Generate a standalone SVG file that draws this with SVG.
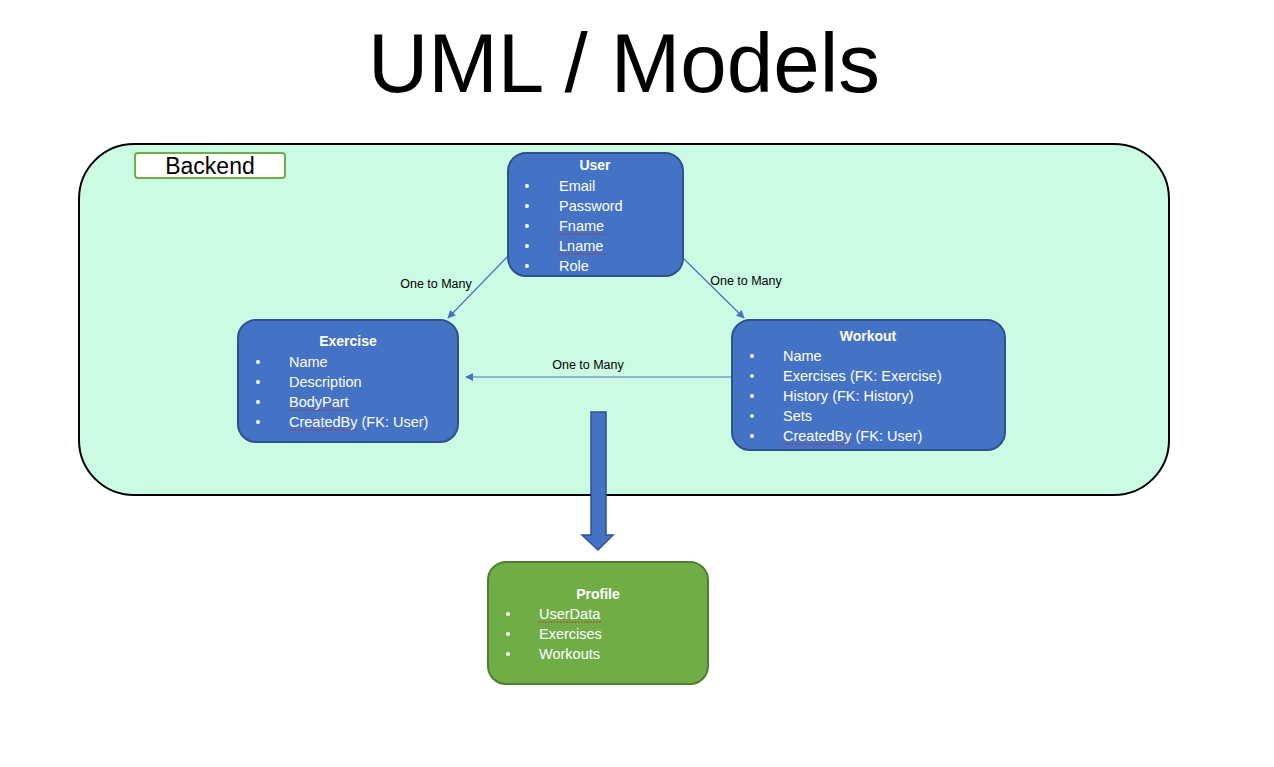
<svg xmlns="http://www.w3.org/2000/svg" width="1274" height="767" viewBox="0 0 1274 767">
<style>
text{font-family:"Liberation Sans",Arial,sans-serif}
.title{font-size:84px;fill:#000}
.node{fill:#4472C4;stroke:#2F528F;stroke-width:2}
.gnode{fill:#70AD47;stroke:#507E32;stroke-width:2}
.hd{font-size:14px;font-weight:bold;fill:#fff;text-anchor:middle}
.it{font-size:14.5px;fill:#fff}
.bul{fill:#fff}
.lbl{font-size:12.5px;fill:#000;text-anchor:middle}
.con{stroke:#4472C4;stroke-width:1.2;fill:none;marker-end:url(#ah)}
.sq{stroke:#D02020;stroke-width:1.2;fill:none;stroke-dasharray:1.5 1.5}
</style>
<defs>
<marker id="ah" viewBox="0 0 10 10" refX="9" refY="5" markerWidth="8" markerHeight="8" orient="auto" markerUnits="userSpaceOnUse">
<path d="M0,0 L10,5 L0,10 z" fill="#4472C4"/>
</marker>
</defs>
<rect width="1274" height="767" fill="#fff"/>
<text class="title" x="624" y="92" text-anchor="middle" textLength="512" lengthAdjust="spacingAndGlyphs">UML / Models</text>

<g id="backend">
<rect x="79" y="144" width="1090" height="351" rx="55" fill="#CCFBE3" stroke="#000" stroke-width="2"/>
<rect x="135" y="153" width="150" height="25" rx="3" fill="#fff" stroke="#70AD47" stroke-width="2"/>
<text x="210" y="174" font-size="23" text-anchor="middle">Backend</text>
</g>

<g id="connectors">
<line class="con" x1="508" y1="256" x2="448" y2="318"/>
<line class="con" x1="684" y1="259" x2="744" y2="318"/>
<line class="con" x1="732" y1="377" x2="466" y2="377"/>
<text class="lbl" x="436" y="288">One to Many</text>
<text class="lbl" x="746" y="285">One to Many</text>
<text class="lbl" x="588" y="369">One to Many</text>
<path d="M591,412 H606 V535 H613 L598,550 L582,535 H591 Z" fill="#4472C4" stroke="#2F528F" stroke-width="1.5"/>
</g>

<g id="user">
<rect class="node" x="508" y="153" width="175" height="123" rx="18"/>
<text class="hd" x="595" y="170">User</text>
<g class="bul"><circle cx="527" cy="186" r="2"/><circle cx="527" cy="206" r="2"/><circle cx="527" cy="226" r="2"/><circle cx="527" cy="246" r="2"/><circle cx="527" cy="266" r="2"/></g>
<text class="it" x="559" y="191">Email</text>
<text class="it" x="559" y="211">Password</text>
<text class="it" x="559" y="231">Fname</text>
<text class="it" x="559" y="251">Lname</text>
<text class="it" x="559" y="271">Role</text>
<line class="sq" x1="559" y1="234" x2="605" y2="234"/>
<line class="sq" x1="559" y1="254" x2="605" y2="254"/>
</g>

<g id="exercise">
<rect class="node" x="238" y="320" width="220" height="122" rx="18"/>
<text class="hd" x="348" y="346">Exercise</text>
<g class="bul"><circle cx="258" cy="362" r="2"/><circle cx="258" cy="382" r="2"/><circle cx="258" cy="402" r="2"/><circle cx="258" cy="422" r="2"/></g>
<text class="it" x="289" y="367">Name</text>
<text class="it" x="289" y="387">Description</text>
<text class="it" x="289" y="407">BodyPart</text>
<text class="it" x="289" y="427">CreatedBy (FK: User)</text>
<line class="sq" x1="289" y1="410" x2="351" y2="410"/>
<line class="sq" x1="289" y1="430" x2="358" y2="430"/>
</g>

<g id="workout">
<rect class="node" x="732" y="320" width="273" height="130" rx="18"/>
<text class="hd" x="868" y="341">Workout</text>
<g class="bul"><circle cx="752" cy="356" r="2"/><circle cx="752" cy="376" r="2"/><circle cx="752" cy="396" r="2"/><circle cx="752" cy="416" r="2"/><circle cx="752" cy="436" r="2"/></g>
<text class="it" x="783" y="361">Name</text>
<text class="it" x="783" y="381">Exercises (FK: Exercise)</text>
<text class="it" x="783" y="401">History (FK: History)</text>
<text class="it" x="783" y="421">Sets</text>
<text class="it" x="783" y="441">CreatedBy (FK: User)</text>
<line class="sq" x1="783" y1="444" x2="852" y2="444"/>
</g>

<g id="profile">
<rect class="gnode" x="488" y="562" width="220" height="122" rx="18"/>
<text class="hd" x="598" y="599">Profile</text>
<g class="bul"><circle cx="508" cy="614" r="2"/><circle cx="508" cy="634" r="2"/><circle cx="508" cy="654" r="2"/></g>
<text class="it" x="539" y="619">UserData</text>
<text class="it" x="539" y="639">Exercises</text>
<text class="it" x="539" y="659">Workouts</text>
<line class="sq" x1="539" y1="622" x2="602" y2="622"/>
</g>
</svg>
